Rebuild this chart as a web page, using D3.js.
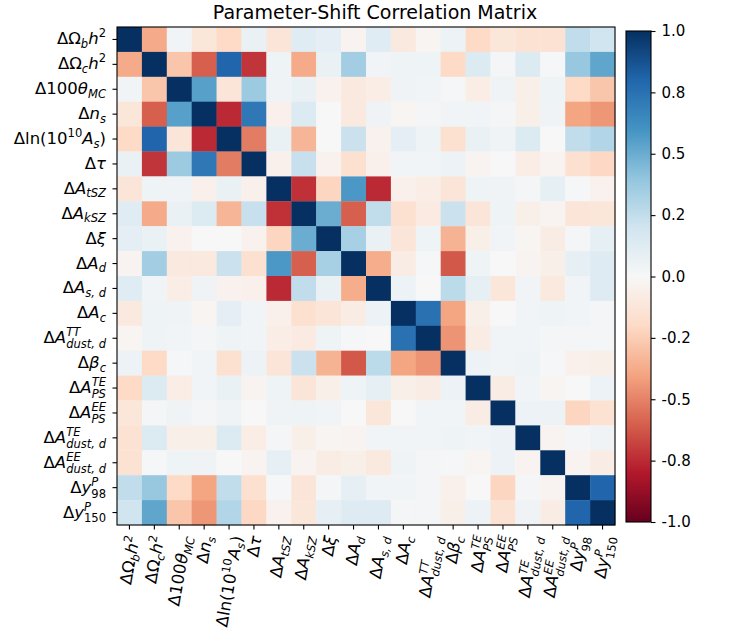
<!DOCTYPE html>
<html>
<head>
<meta charset="utf-8">
<script src="https://cdn.jsdelivr.net/npm/d3@7"></script>
<style>
    body { margin: 0; background: #fff; }
    text { font-family: "DejaVu Sans", sans-serif; fill: #000; }
</style>
</head>
<body>
<div id="vis"></div>
<script>

// parameter labels, split into mathtext-like pieces
// r = upright, i = italic, sub = italic subscript, subn = upright subscript,
// sup = upright superscript, stack = italic superscript with the next subscript under it
let labels = [
    [['ΔΩ', 'r'], ['b', 'sub'], ['h', 'i'], ['2', 'sup']],
    [['ΔΩ', 'r'], ['c', 'sub'], ['h', 'i'], ['2', 'sup']],
    [['Δ100', 'r'], ['θ', 'i'], ['MC', 'sub']],
    [['Δ', 'r'], ['n', 'i'], ['s', 'sub']],
    [['Δln(10', 'r'], ['10', 'sup'], ['A', 'i'], ['s', 'sub'], [')', 'r']],
    [['Δ', 'r'], ['τ', 'i']],
    [['Δ', 'r'], ['A', 'i'], ['tSZ', 'sub']],
    [['Δ', 'r'], ['A', 'i'], ['kSZ', 'sub']],
    [['Δ', 'r'], ['ξ', 'i']],
    [['Δ', 'r'], ['A', 'i'], ['d', 'sub']],
    [['Δ', 'r'], ['A', 'i'], ['s, d', 'sub']],
    [['Δ', 'r'], ['A', 'i'], ['c', 'sub']],
    [['Δ', 'r'], ['A', 'i'], ['TT', 'stack'], ['dust, d', 'sub']],
    [['Δ', 'r'], ['β', 'i'], ['c', 'sub']],
    [['Δ', 'r'], ['A', 'i'], ['TE', 'stack'], ['PS', 'sub']],
    [['Δ', 'r'], ['A', 'i'], ['EE', 'stack'], ['PS', 'sub']],
    [['Δ', 'r'], ['A', 'i'], ['TE', 'stack'], ['dust, d', 'sub']],
    [['Δ', 'r'], ['A', 'i'], ['EE', 'stack'], ['dust, d', 'sub']],
    [['Δ', 'r'], ['y', 'i'], ['P', 'stack'], ['98', 'subn']],
    [['Δ', 'r'], ['y', 'i'], ['P', 'stack'], ['150', 'subn']]
];

// correlation matrix, row by row
let corr = [
    [1, -0.38, 0.03, -0.12, -0.2, 0.07, -0.13, 0.12, 0.1, -0.03, 0.12, -0.1, -0.02, 0.06, -0.2, -0.12, -0.15, -0.15, 0.25, 0.2],
    [-0.38, 1, -0.28, -0.6, 0.8, -0.72, 0.05, -0.38, 0.07, 0.35, 0.03, 0.05, 0.05, -0.2, 0.14, 0.02, 0.14, 0.01, 0.38, 0.53],
    [0.03, -0.28, 1, 0.55, -0.13, 0.37, 0.04, 0.07, -0.04, -0.1, -0.07, 0.04, 0.03, 0.01, -0.07, 0.04, -0.06, 0.05, -0.2, -0.28],
    [-0.12, -0.6, 0.55, 1, -0.75, 0.72, -0.05, 0.14, 0.0, -0.1, 0.04, -0.02, 0.02, 0.03, 0.03, 0.02, -0.06, 0.04, -0.4, -0.44],
    [-0.2, 0.8, -0.13, -0.75, 1, -0.52, 0.07, -0.34, 0.0, 0.22, -0.04, 0.1, 0.05, -0.16, 0.07, 0.04, 0.14, 0.0, 0.25, 0.3],
    [0.07, -0.72, 0.37, 0.72, -0.52, 1, -0.05, 0.23, -0.04, -0.16, -0.05, 0.03, 0.03, 0.06, -0.03, 0.0, -0.07, -0.03, -0.16, -0.21],
    [-0.13, 0.05, 0.04, -0.05, 0.07, -0.05, 1, -0.73, -0.22, 0.58, -0.75, -0.05, -0.07, -0.13, 0.05, 0.04, 0.02, 0.09, 0.01, -0.04],
    [0.12, -0.38, 0.07, 0.14, -0.34, 0.23, -0.73, 1, 0.5, -0.6, 0.25, -0.16, -0.09, 0.22, -0.13, 0.05, -0.06, -0.03, -0.13, -0.12],
    [0.1, 0.07, -0.04, 0.0, 0.0, -0.04, -0.22, 0.5, 1, 0.33, 0.07, -0.13, 0.05, -0.35, -0.06, 0.03, -0.02, -0.08, 0.02, 0.09],
    [-0.03, 0.35, -0.1, -0.1, 0.22, -0.16, 0.58, -0.6, 0.33, 1, -0.37, -0.08, 0.01, -0.62, 0.05, 0.0, -0.03, -0.06, 0.09, 0.13],
    [0.12, 0.03, -0.07, 0.04, -0.04, -0.05, -0.75, 0.25, 0.07, -0.37, 1, 0.06, 0.0, 0.27, 0.09, -0.12, 0.03, -0.1, 0.03, 0.13],
    [-0.1, 0.05, 0.04, -0.02, 0.1, 0.03, -0.05, -0.16, -0.13, -0.08, 0.06, 1, 0.75, -0.4, -0.06, 0.0, 0.03, 0.05, 0.03, 0.02],
    [-0.02, 0.05, 0.03, 0.02, 0.05, 0.03, -0.07, -0.09, 0.05, 0.01, 0.0, 0.75, 1, -0.45, -0.08, 0.03, 0.03, 0.02, 0.02, 0.02],
    [0.06, -0.2, 0.01, 0.03, -0.16, 0.06, -0.13, 0.22, -0.35, -0.62, 0.27, -0.4, -0.45, 1, 0.06, 0.03, 0.05, 0.01, -0.05, -0.06],
    [-0.2, 0.14, -0.07, 0.03, 0.07, -0.03, 0.05, -0.13, -0.06, 0.05, 0.09, -0.06, -0.08, 0.06, 1, -0.08, 0.03, -0.02, 0.0, 0.06],
    [-0.12, 0.02, 0.04, 0.02, 0.04, 0.0, 0.04, 0.05, 0.03, 0.0, -0.12, 0.0, 0.03, 0.03, -0.08, 1, 0.06, 0.06, -0.22, -0.15],
    [-0.15, 0.14, -0.06, -0.06, 0.14, -0.07, 0.02, -0.06, -0.02, -0.03, 0.03, 0.03, 0.03, 0.05, 0.03, 0.06, 1, -0.03, 0.02, 0.04],
    [-0.15, 0.01, 0.05, 0.04, 0.0, -0.03, 0.09, -0.03, -0.08, -0.06, -0.1, 0.05, 0.02, 0.01, -0.02, 0.06, -0.03, 1, -0.03, -0.08],
    [0.25, 0.38, -0.2, -0.4, 0.25, -0.16, 0.01, -0.13, 0.02, 0.09, 0.03, 0.03, 0.02, -0.05, 0.0, -0.22, 0.02, -0.03, 1, 0.8],
    [0.2, 0.53, -0.28, -0.44, 0.3, -0.21, -0.04, -0.12, 0.09, 0.13, 0.13, 0.02, 0.02, -0.06, 0.06, -0.15, 0.04, -0.08, 0.8, 1]
];

// colour bar ticks (matplotlib rounds 0.75 -> 0.8 and 0.25 -> 0.2)
let cbarTicks = [-1, -0.75, -0.5, -0.25, 0, 0.25, 0.5, 0.75, 1];
let cbarLabels = ['-1.0', '-0.8', '-0.5', '-0.2', '0.0', '0.2', '0.5', '0.8', '1.0'];

// RdBu colour stops
let rdbuStops = [-1, -0.8, -0.6, -0.4, -0.2, 0, 0.2, 0.4, 0.6, 0.8, 1];

let width = 731, height = 635;
let fs = 16.5,      // parameter labels
    cfs = 15;       // colour bar numbers

let matrix = {left: 117, top: 27, size: 498};
let cbar = {left: 626, top: 31, width: 25, bottom: 522};

let svg = d3.select('#vis')
    .append('svg')
    .attr('width', width)
    .attr('height', height);

// Scaling
let idx = d3.range(labels.length);

let xScale = d3.scaleBand()
    .domain(idx)
    .range([matrix.left, matrix.left + matrix.size]);

let yScale = d3.scaleBand()
    .domain(idx)
    .range([matrix.top, matrix.top + matrix.size]);

let color = d3.scaleLinear()
    .domain(rdbuStops)
    .range(d3.schemeRdBu[11])
    .clamp(true);

let cScale = d3.scaleLinear()
    .domain([-1, 1])
    .range([cbar.bottom, cbar.top]);


// write a label as tspans with sub/superscripts
function writeLabel(text, parts) {
    let shift = 0, back = 0;
    parts.forEach(function(p) {
        let kind = p[1];
        let target = 0, size = fs, italic = (kind === 'i');
        if (kind === 'sub' || kind === 'subn') {
            target = back ? 0.3 * fs : 0.22 * fs;
            size = 0.7 * fs;
            italic = (kind === 'sub');
        }
        if (kind === 'sup' || kind === 'stack') {
            target = -0.42 * fs;
            size = 0.7 * fs;
            italic = (kind === 'stack');
        }
        let t = text.append('tspan')
            .attr('dy', target - shift)
            .style('font-size', size + 'px')
            .style('font-style', italic ? 'italic' : 'normal')
            .text(p[0]);
        if (back) {
            t.attr('dx', -back);
            back = 0;
        }
        if (kind === 'stack') {
            back = t.node().getComputedTextLength();
        }
        shift = target;
    });
}


// Cells
let rows = svg.append('g')
    .selectAll('g.row')
    .data(corr)
    .enter()
    .append('g')
    .attr('class', 'row')
    .attr('transform', function(d, i) {
        return 'translate(0,' + yScale(i) + ')';
    });

rows.selectAll('rect')
    .data(function(d) { return d; })
    .enter()
    .append('rect')
    .attr('x', function(d, j) { return xScale(j); })
    .attr('width', xScale.bandwidth() + 0.3)
    .attr('height', yScale.bandwidth() + 0.3)
    .attr('fill', function(d) { return color(d); });

// frame
svg.append('rect')
    .attr('x', matrix.left)
    .attr('y', matrix.top)
    .attr('width', matrix.size)
    .attr('height', matrix.size)
    .attr('fill', 'none')
    .attr('stroke', '#000')
    .attr('stroke-width', 1.1);


// Axes (ticks only, labels drawn below)
let yAxis = d3.axisLeft(yScale)
    .tickSize(4.5)
    .tickSizeOuter(0)
    .tickFormat('');

let xAxis = d3.axisBottom(xScale)
    .tickSize(4.5)
    .tickSizeOuter(0)
    .tickFormat('');

svg.append('g')
    .attr('transform', 'translate(' + matrix.left + ',0)')
    .call(yAxis)
    .call(function(g) { g.select('.domain').remove(); })
    .selectAll('line').attr('stroke-width', 1.1);

svg.append('g')
    .attr('transform', 'translate(0,' + (matrix.top + matrix.size) + ')')
    .call(xAxis)
    .call(function(g) { g.select('.domain').remove(); })
    .selectAll('line').attr('stroke-width', 1.1);

// y labels
svg.append('g')
    .selectAll('text')
    .data(labels)
    .enter()
    .append('text')
    .attr('x', matrix.left - 11)
    .attr('y', function(d, i) { return yScale(i) + yScale.bandwidth() / 2 + 0.3 * fs; })
    .attr('text-anchor', 'end')
    .style('font-size', fs + 'px')
    .each(function(d) { writeLabel(d3.select(this), d); });

// x labels, rotated 80 degrees
svg.append('g')
    .selectAll('text')
    .data(labels)
    .enter()
    .append('text')
    .attr('y', 0.3 * fs)
    .attr('text-anchor', 'end')
    .style('font-size', fs + 'px')
    .each(function(d) { writeLabel(d3.select(this), d); })
    .attr('transform', function(d, i) {
        let len = this.getComputedTextLength();
        let x = xScale(i) + xScale.bandwidth() / 2 + 0.087 * len + 1;
        return 'translate(' + x + ',' + (matrix.top + matrix.size + 11) + ') rotate(-80)';
    });


// Colour bar
let grad = svg.append('defs')
    .append('linearGradient')
    .attr('id', 'rdbu')
    .attr('x1', 0).attr('y1', 1)
    .attr('x2', 0).attr('y2', 0);

grad.selectAll('stop')
    .data(rdbuStops)
    .enter()
    .append('stop')
    .attr('offset', function(d) { return (d + 1) / 2; })
    .attr('stop-color', function(d) { return color(d); });

svg.append('rect')
    .attr('x', cbar.left)
    .attr('y', cbar.top)
    .attr('width', cbar.width)
    .attr('height', cbar.bottom - cbar.top)
    .attr('fill', 'url(#rdbu)')
    .attr('stroke', '#000')
    .attr('stroke-width', 1.1);

let cAxis = d3.axisRight(cScale)
    .tickValues(cbarTicks)
    .tickSize(4.5)
    .tickSizeOuter(0)
    .tickPadding(6)
    .tickFormat(function(d, i) { return cbarLabels[i]; });

svg.append('g')
    .attr('transform', 'translate(' + (cbar.left + cbar.width) + ',0)')
    .call(cAxis)
    .call(function(g) { g.select('.domain').remove(); })
    .call(function(g) { g.selectAll('line').attr('stroke-width', 1.1); })
    .selectAll('text')
    .attr('font-family', 'DejaVu Sans')
    .style('font-size', cfs + 'px');


// Title
svg.append('text')
    .attr('x', 375)
    .attr('y', 18.5)
    .attr('text-anchor', 'middle')
    .style('font-size', '19px')
    .text('Parameter-Shift Correlation Matrix');

</script>
</body>
</html>
